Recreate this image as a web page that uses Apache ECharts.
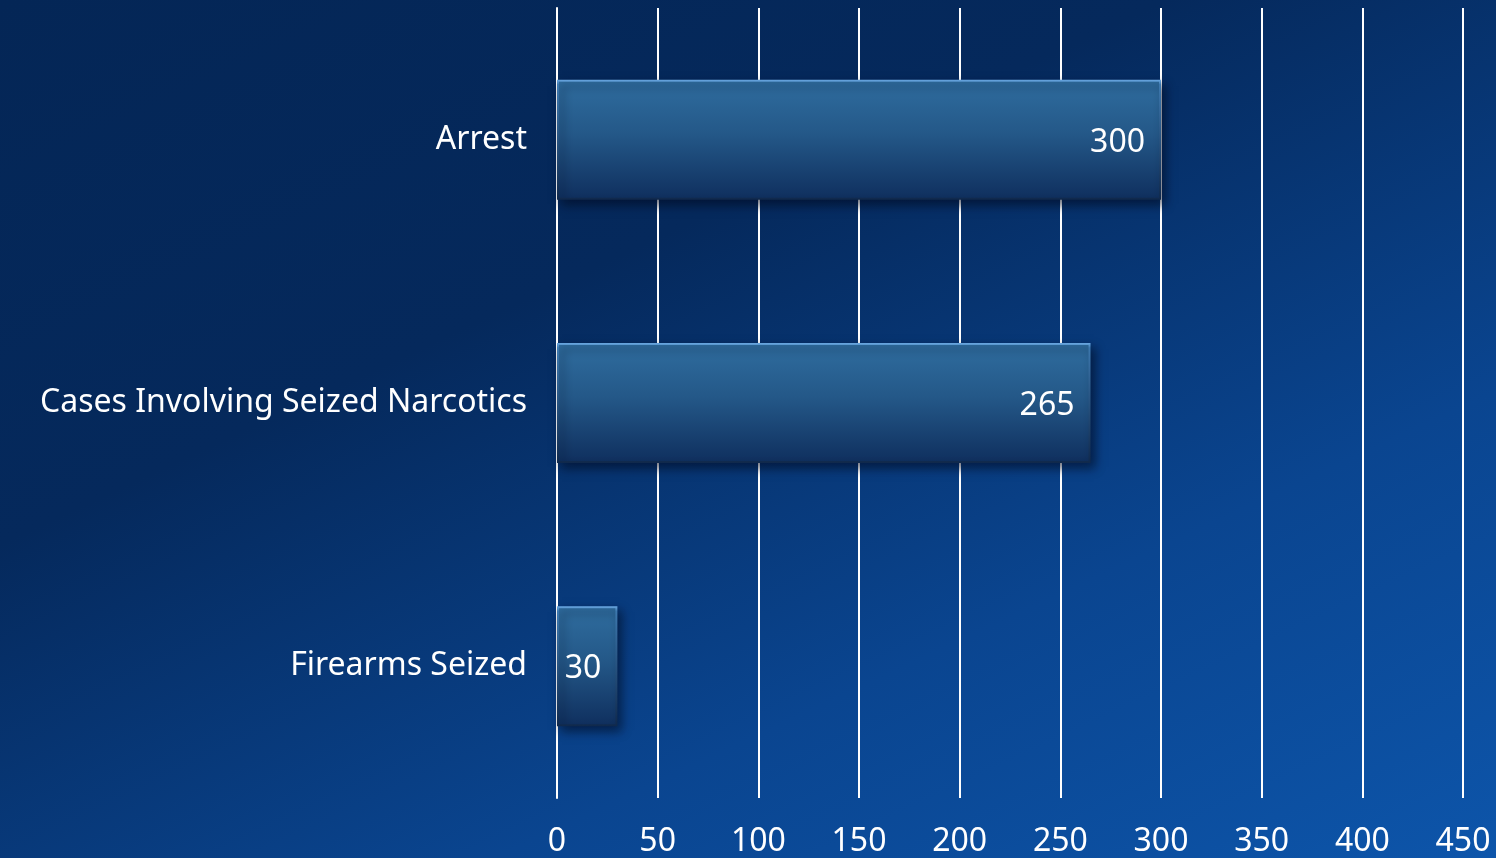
<!DOCTYPE html>
<html>
<head>
<meta charset="utf-8">
<title>Enforcement Results</title>
<script src="https://cdn.jsdelivr.net/npm/echarts@6/dist/echarts.min.js"></script>
<style>
  html, body { margin: 0; padding: 0; width: 100%; height: 100%; overflow: hidden; }
  body { background: linear-gradient(155deg, #042656 0%, #05295c 35%, #0a4590 70%, #0d55aa 100%); }
  #chart { width: 1496px; height: 858px; }
</style>
</head>
<body>
<div id="chart"></div>
<script>
// Categories listed top to bottom
const categories = ['Arrest', 'Cases Involving Seized Narcotics', 'Firearms Seized'];
const counts = [300, 265, 30];
const axisMax = 450;
const axisStep = 50;

const font = '"Noto Sans", "DejaVu Sans", sans-serif';

const chart = echarts.init(document.getElementById('chart'), null, { renderer: 'canvas' });

chart.setOption({
  backgroundColor: 'transparent',
  animation: false,
  grid: { left: 557, right: 33, top: 8, bottom: 60, containLabel: false },
  xAxis: {
    type: 'value',
    min: 0,
    max: axisMax,
    interval: axisStep,
    axisLine: { show: false },
    axisTick: { show: false },
    splitLine: { show: true, lineStyle: { color: '#ffffff', width: 2 } },
    axisLabel: { color: '#ffffff', fontFamily: font, fontSize: 32, margin: 28 }
  },
  yAxis: {
    type: 'category',
    inverse: true,
    data: categories,
    axisLine: { show: true, lineStyle: { color: '#ffffff', width: 2 } },
    axisTick: { show: false },
    axisLabel: { color: '#ffffff', fontFamily: font, fontSize: 32, margin: 30, padding: [7, 0, 0, 0] }
  },
  series: [{
    type: 'bar',
    data: counts,
    barWidth: 120,
    itemStyle: {
      color: new echarts.graphic.LinearGradient(0, 0, 0, 1, [
        { offset: 0, color: '#2f6d9f' },
        { offset: 0.45, color: '#245888' },
        { offset: 1, color: '#0f2f5e' }
      ]),
      borderColor: new echarts.graphic.LinearGradient(0, 0, 0, 1, [
        { offset: 0, color: '#6aa8e2' },
        { offset: 0.04, color: '#3d78ae' },
        { offset: 1, color: '#10294c' }
      ]),
      borderWidth: 2,
      shadowColor: 'rgba(0, 8, 30, 0.6)',
      shadowBlur: 10,
      shadowOffsetX: 4,
      shadowOffsetY: 5
    },
    label: {
      show: true,
      position: 'insideRight',
      distance: 16,
      offset: [0, 3],
      color: '#ffffff',
      fontFamily: font,
      fontSize: 32
    }
  }]
});
</script>
</body>
</html>
